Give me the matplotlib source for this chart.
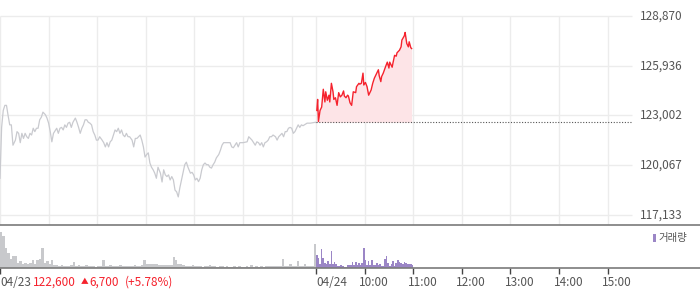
import matplotlib
matplotlib.use("Agg")
import matplotlib.pyplot as plt
import matplotlib.transforms as mtransforms

plt.rcParams["font.family"] = ["Noto Sans CJK KR", "DejaVu Sans"]

# ---- data --------------------------------------------------------------------
PREV_CLOSE = 122600
Y_TICKS = [117133, 120067, 123002, 125936, 128870]

# 04/23 price, minutes since 09:00
day1_min = [0, 2, 4, 6, 8, 10, 12, 14, 16, 19, 21, 23, 25, 27, 29, 31, 33, 35, 37, 39,
            41, 43, 45, 47, 49, 51, 53, 56, 58, 60, 62, 64, 66, 70, 72, 74, 76, 78, 80, 82,
            84, 86, 88, 90, 93, 95, 97, 99, 101, 103, 105, 107, 109, 111, 113, 115, 117, 119, 121, 123,
            126, 128, 130, 132, 134, 136, 138, 140, 142, 144, 146, 148, 150, 152, 154, 156, 158, 160, 163, 165,
            167, 169, 171, 173, 175, 177, 179, 181, 183, 185, 187, 189, 191, 193, 195, 198, 200, 202, 204, 206,
            208, 210, 212, 214, 216, 218, 220, 222, 224, 226, 228, 230, 232, 235, 237, 239, 241, 243, 245, 247,
            249, 251, 253, 255, 257, 259, 261, 263, 265, 267, 270, 272, 274, 276, 280, 284, 286, 288, 290, 292,
            294, 296, 298, 300, 305, 307, 309, 311, 313, 315, 317, 319, 321, 323, 325, 327, 329, 331, 333, 335,
            337, 340, 342, 344, 346, 348, 350, 352, 354, 356, 358, 360, 362, 364, 366, 368, 370, 372, 374, 379,
            383, 389]
day1_price = [119300, 122300, 123300, 123600, 123600, 123000, 122450, 122450, 121250, 121550, 122050, 121950, 121400, 121950, 121650, 121950, 121750, 121650, 121950, 121850,
              122250, 122050, 122250, 122250, 122750, 122900, 123200, 123050, 122850, 122550, 122050, 121450, 121950, 122250, 121950, 122250, 122300, 122150, 122450, 122300,
              122550, 122600, 122300, 122600, 122850, 122600, 122300, 121950, 122250, 122450, 122750, 122750, 122600, 122550, 122450, 122050, 121850, 121550, 121550, 121750,
              121550, 121400, 121150, 121400, 121150, 121450, 121550, 121850, 122150, 122050, 122250, 121950, 122150, 121850, 121750, 121950, 121750, 121750, 121550, 121150,
              121650, 121650, 121750, 121850, 121550, 121150, 120550, 120700, 120800, 120200, 119950, 119800, 119600, 119300, 119950, 119600, 119080, 119800, 119500, 119400,
              119500, 119200, 119400, 119200, 118600, 118500, 118200, 118750, 119200, 119650, 120100, 120250, 119950, 119600, 119650, 119500, 119200, 119300, 119100, 119300,
              119800, 120100, 120200, 120100, 120100, 119950, 119900, 120100, 120250, 120500, 120700, 120950, 121250, 121400, 121400, 121400, 121150, 121100, 121250, 121400,
              121150, 121400, 121400, 121400, 121450, 121750, 121650, 121550, 121400, 121250, 121450, 121400, 121250, 121400, 121150, 121400, 121450, 121550, 121750, 121750,
              121850, 121750, 121550, 121750, 121850, 121950, 121750, 122050, 122050, 122250, 122300, 122250, 121950, 122050, 122250, 122450, 122300, 122450, 122400, 122550,
              122550, 122600]

# 04/24 price, minutes since 09:00
day2_min = [1, 2, 3, 5, 7, 9, 11, 12, 14, 16, 17, 19, 21, 22, 24, 26, 28, 30, 32, 34,
            35, 37, 39, 40, 42, 44, 46, 49, 50, 53, 54, 56, 58, 59, 61, 63, 65, 68, 70, 72,
            75, 77, 78, 80, 81, 83, 86, 88, 90, 91, 94, 95, 97, 99, 100, 103, 105, 106, 109, 110,
            112, 114, 115, 117, 118]
day2_price = [123300, 123950, 122650, 123300, 123500, 124550, 123800, 124400, 123900, 124200, 123800, 124900, 124400, 123950, 124050, 123600, 124350, 124100, 124200, 124450,
              124150, 124050, 124200, 124150, 123750, 123600, 124400, 124350, 124700, 124900, 124850, 124900, 125500, 124800, 124950, 124700, 124200, 124500, 124900, 125200,
              125500, 125700, 125350, 125000, 125300, 125500, 125900, 126150, 125800, 126150, 125850, 126100, 126550, 126500, 126700, 126850, 127050, 127450, 127700, 127900,
              127250, 127050, 127350, 127000, 126950]

# volume (relative units): 04/23 in 3-minute bins, 04/24 in 2-minute bins
vol_day1 = [36, 32, 20, 15, 9, 12, 12, 5, 7, 4, 5, 4, 5, 8, 4, 8, 9, 20, 5, 7,
            4, 8, 3, 3, 2, 3, 2, 2, 2, 3, 6, 2, 3, 2, 2, 3, 2, 2, 2, 1,
            2, 2, 8, 2, 2, 3, 2, 2, 2, 3, 2, 2, 2, 2, 2, 3, 2, 2, 3, 8,
            4, 4, 4, 4, 4, 3, 3, 3, 3, 3, 3, 11, 8, 4, 4, 3, 2, 2, 2, 3,
            2, 2, 2, 1, 2, 2, 3, 2, 2, 1, 2, 2, 1, 2, 1, 1, 2, 1, 2, 1,
            1, 2, 1, 3, 1, 2, 1, 2, 1, 2, 2, 2, 2, 2, 2, 2, 9, 2, 2, 4,
            2, 2, 7, 2, 2, 4, 2, 2, 2, 24]
vol_day2 = [13, 10, 4, 19, 10, 5, 4, 7, 4, 17, 4, 6, 4, 2, 2, 3, 2, 1, 1, 3,
            3, 3, 6, 3, 6, 3, 5, 3, 5, 20, 8, 3, 7, 3, 8, 3, 3, 5, 3, 4,
            2, 2, 9, 12, 5, 2, 4, 7, 2, 5, 8, 6, 5, 4, 6, 5, 4, 4, 4, 3]

HOUR_LABELS = ["10:00", "11:00", "12:00", "13:00", "14:00", "15:00"]

# ---- layout ------------------------------------------------------------------
W, H = 700, 289
DAY = 390                      # minutes per session (09:00-15:30)
XMAX = 700 / (632 / 780)       # axes span full width; 2 sessions fill 632 px

GRID = "#ececec"
AXIS = "#7a7a7a"
TXT = "#555555"
RED = "#f5222d"

fig = plt.figure(figsize=(W / 100, H / 100), dpi=100)
ax = fig.add_axes([0, 64 / H, 1, 225 / H])
axv = fig.add_axes([0, 21 / H, 1, 42 / H])

y_lo = 129814 - 58.98 * 225
ax.set_xlim(0, XMAX)
ax.set_ylim(y_lo, 129814)

# grid
ax.hlines(Y_TICKS, 0, 2 * DAY, color=GRID, lw=1, zorder=0)
vx = [60 * h for h in range(1, 7)] + [DAY] + [DAY + 60 * h for h in range(1, 7)]
ax.vlines(vx, y_lo, Y_TICKS[-1], color=GRID, lw=1, zorder=0)
ax.vlines([0.3], y_lo, Y_TICKS[-1], color=GRID, lw=1, zorder=0)

# price lines
t2 = [DAY + m for m in day2_min]
ax.plot(day1_min, day1_price, color="#c9cacf", lw=0.9, zorder=2)
ax.plot([day1_min[-1], DAY], [day1_price[-1], PREV_CLOSE], color="#c9cacf", lw=0.9)
ax.fill_between(t2, day2_price, PREV_CLOSE, color="#fde4e7", lw=0, zorder=1)
ax.plot(t2, day2_price, color=RED, lw=1.0, zorder=3)
ax.hlines(PREV_CLOSE, DAY, 2 * DAY, color="#555555", lw=0.8,
          linestyles=(0, (1, 1.5)), zorder=2)

for s in ["top", "right", "left"]:
    ax.spines[s].set_visible(False)
ax.spines["bottom"].set_color(AXIS)
ax.spines["bottom"].set_linewidth(1.2)
ax.set_xticks([])
ax.set_yticks([])

trans = mtransforms.blended_transform_factory(ax.transAxes, ax.transData)
for v in Y_TICKS:
    ax.text(640 / W, v, f"{v:,}", transform=trans, ha="left", va="center",
            fontsize=8.5, color=TXT)

# volume
axv.set_xlim(0, XMAX)
axv.set_ylim(0, 42)
x1 = [3 * i for i in range(len(vol_day1))]
x2 = [DAY + 2 * i for i in range(len(vol_day2))]
axv.bar(x1, vol_day1, width=3, align="edge", color="#c8c9cc", lw=0)
axv.bar(x2, vol_day2, width=2, align="edge", color="#9b86c6", lw=0)
for s in ["top", "right", "left"]:
    axv.spines[s].set_visible(False)
axv.spines["bottom"].set_color(AXIS)
axv.spines["bottom"].set_linewidth(1.2)
axv.set_yticks([])
ticks = [0, DAY] + [DAY + 60 * h for h in range(1, 7)]
axv.set_xticks(ticks)
axv.set_xticklabels([])
axv.tick_params(axis="x", length=4, width=1, color="#444444")

# legend
axv.add_patch(plt.Rectangle((652.5 / W, 0.62), 3.5 / W, 0.19,
                            transform=axv.transAxes, color="#9b86c6", lw=0))
axv.text(658 / W, 0.71, "거래량", transform=axv.transAxes, ha="left",
         va="center", fontsize=7.5, color=TXT)

# bottom labels
ylab = 1 - 282 / H
fig.text(0 / W, ylab, "04/23", ha="left", va="center", fontsize=8.5, color=TXT)
fig.text(33 / W, ylab, "122,600", ha="left", va="center", fontsize=8.5, color=RED)
fig.text(81 / W, ylab, "▲", ha="left", va="center", fontsize=5.5, color=RED)
fig.text(89 / W, ylab, "6,700", ha="left", va="center", fontsize=8.5, color=RED)
fig.text(125 / W, ylab, "(+5.78%)", ha="left", va="center", fontsize=8.5, color=RED)
fig.text(316 / W, ylab, "04/24", ha="left", va="center", fontsize=8.5, color=TXT)
for h, lab in enumerate(HOUR_LABELS, start=1):
    px = (DAY + 60 * h) * (632 / 780)
    fig.text((px - 5.5) / W, ylab, lab, ha="left", va="center", fontsize=8.5, color=TXT)

fig.savefig("out.png", dpi=100)
